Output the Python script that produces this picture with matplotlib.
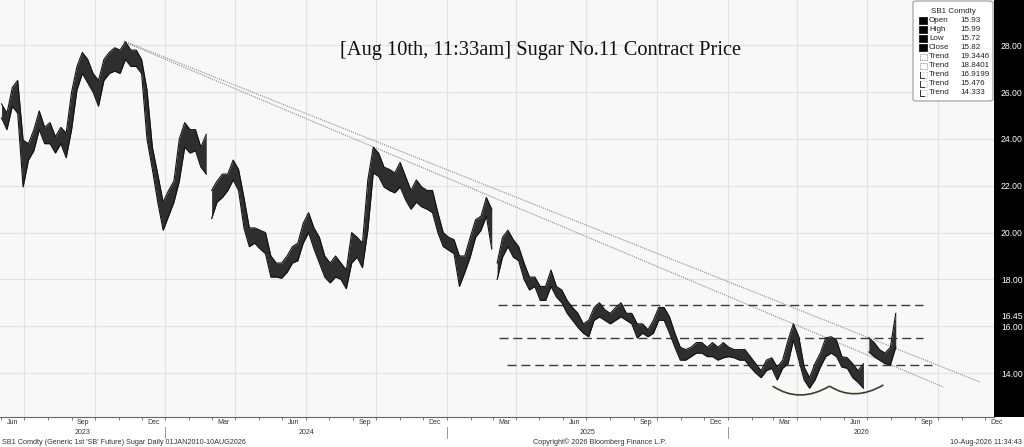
import matplotlib
matplotlib.use('Agg')
import matplotlib.pyplot as plt
import matplotlib.dates as mdates
import matplotlib.transforms as mtransforms
from matplotlib.patches import FancyBboxPatch, Rectangle, PathPatch
from matplotlib.path import Path
import pandas as pd

# weekly high / low of the generic 1st sugar future
week_high = [25.5, 25.1, 26.2, 26.5, 23.95, 23.8, 24.4, 25.2, 24.5, 24.7,
             24.1, 24.5, 24.25, 26.0, 27.1, 27.7, 27.4, 26.8, 26.5, 27.4,
             27.7, 27.9, 27.8, 28.15, 27.8, 27.8, 27.4, 26.1, 23.65, 22.5,
             21.3, 21.8, 22.2, 24.0, 24.7, 24.4, 24.4, 23.65, 24.2, 21.8,
             22.2, 22.5, 22.5, 23.1, 22.7, 21.5, 20.2, 20.2, 20.1, 20.0,
             19.0, 18.7, 18.7, 19.0, 19.4, 19.55, 20.4, 20.85, 20.2, 19.8,
             19.0, 18.7, 19.0, 18.7, 18.4, 20.0, 19.8, 19.55, 22.25, 23.65,
             23.4, 22.8, 22.7, 22.55, 23.0, 22.4, 21.8, 22.25, 21.95, 21.8,
             21.8, 20.85, 20.0, 19.8, 19.7, 19.0, 19.0, 19.8, 20.55, 20.7,
             21.5, 21.0, 18.7, 19.8, 20.1, 19.7, 19.4, 18.7, 18.1, 18.1,
             17.7, 17.7, 18.4, 17.7, 17.55, 17.1, 16.8, 16.55, 16.1, 16.25,
             16.8, 17.0, 16.7, 16.55, 16.8, 17.0, 16.55, 16.55, 16.1, 16.1,
             15.85, 16.25, 16.8, 16.8, 16.4, 15.7, 15.1, 15.0, 15.1, 15.3,
             15.3, 15.1, 15.3, 15.1, 15.3, 15.1, 15.0, 15.0, 15.0, 14.7,
             14.4, 14.1, 14.55, 14.65, 14.25, 14.55, 15.4, 16.1, 15.55, 14.25,
             13.8, 14.4, 14.85, 15.5, 15.55, 15.4, 14.7, 14.65, 14.4, 14.1,
             14.4, 15.5, 15.3, 15.0, 14.85, 15.1, 16.55]
week_low = [24.9, 24.4, 25.4, 25.1, 21.95, 23.1, 23.5, 24.4, 23.8, 23.8,
            23.4, 23.8, 23.2, 24.4, 26.1, 26.8, 26.4, 26.0, 25.4, 26.5,
            26.8, 26.9, 26.8, 27.4, 27.1, 27.1, 26.8, 24.0, 22.7, 21.3,
            20.1, 20.7, 21.3, 22.2, 23.65, 23.4, 23.5, 22.8, 22.5, 20.6,
            21.3, 21.5, 21.8, 22.25, 21.8, 20.2, 19.4, 19.55, 19.3, 19.1,
            18.1, 18.1, 18.05, 18.3, 18.7, 18.8, 19.55, 20.0, 19.3, 18.7,
            18.1, 17.85, 18.1, 18.0, 17.6, 18.7, 18.95, 18.5, 20.1, 22.55,
            22.4, 21.95, 21.8, 21.7, 21.95, 21.4, 21.0, 21.3, 21.1, 21.0,
            20.85, 20.0, 19.4, 19.25, 19.1, 17.7, 18.3, 18.95, 19.8, 20.1,
            20.7, 19.3, 18.0, 18.95, 19.4, 18.95, 18.8, 18.0, 17.55, 17.7,
            17.1, 17.1, 17.7, 17.25, 17.0, 16.55, 16.25, 15.95, 15.7, 15.55,
            16.25, 16.4, 16.25, 16.1, 16.25, 16.4, 16.25, 16.1, 15.5, 15.7,
            15.55, 15.7, 16.25, 16.25, 15.7, 15.1, 14.55, 14.55, 14.7, 14.85,
            14.85, 14.7, 14.7, 14.55, 14.65, 14.7, 14.65, 14.55, 14.55, 14.25,
            14.0, 13.8, 14.1, 14.2, 13.7, 14.2, 14.4, 15.4, 14.55, 13.7,
            13.35, 13.7, 14.25, 14.7, 14.85, 14.7, 14.25, 14.2, 13.8, 13.6,
            13.35, 14.9, 14.7, 14.55, 14.4, 14.35, 15.1]
first_week = '2023-06-02'
roll_dates = ['2024-02-29', '2025-03-01', '2026-07-01']

# dotted trend lines from the Nov 2023 high
trend_dates = [['2023-11-08', '2026-11-24'], ['2023-11-08', '2026-10-08']]
trend_values = [[28.19, 13.62], [28.15, 13.40]]

# dashed horizontal levels
level_values = [16.9199, 15.476, 14.333]
level_start = ['2025-03-08', '2025-03-09', '2025-03-20']
level_end = ['2026-09-11', '2026-09-12', '2026-09-23']

# double bottom arcs (start, control, end)
arc_dates = [['2026-02-28', '2026-04-04', '2026-05-13'],
             ['2026-05-13', '2026-06-14', '2026-07-22']]
arc_values = [[13.44, 12.68, 13.44], [13.44, 12.76, 13.49]]

y_ticks = [14.0, 16.0, 16.45, 18.0, 20.0, 22.0, 24.0, 26.0, 28.0]
grid_values = [14, 16, 18, 20, 22, 24, 26, 28]
month_labels = {3: 'Mar', 6: 'Jun', 9: 'Sep', 12: 'Dec'}

legend_labels = ['Open', 'High', 'Low', 'Close', 'Trend', 'Trend', 'Trend', 'Trend', 'Trend']
legend_values = ['15.93', '15.99', '15.72', '15.82', '19.3446', '18.8401', '16.9199', '15.476', '14.333']

W, H = 1024, 447
fig = plt.figure(figsize=(W / 100, H / 100), dpi=100)
fig.patch.set_facecolor('white')


def fx(px):
    return px / W


def fy(py):
    return 1 - py / H


panel = fig.add_axes([fx(994), fy(417), fx(30), 417 / H])
panel.set_facecolor('black')
panel.set_xticks([])
panel.set_yticks([])
for s in panel.spines.values():
    s.set_visible(False)
panel.set_zorder(0)

ax = fig.add_axes([0, fy(417), fx(994), 417 / H])
ax.set_zorder(1)
ax.set_facecolor('#f8f8f8')
xmin = pd.Timestamp('2023-05-31')
xmax = pd.Timestamp('2026-12-12 16:00')
ax.set_xlim(xmin, xmax)
ax.set_ylim(12.12, 29.94)

for g in grid_values:
    ax.axhline(g, color='#e2e2e2', lw=0.8, zorder=0)
for q in pd.date_range('2023-07-01', '2026-12-01', freq='QS'):
    ax.axvline(q, color='#e2e2e2', lw=0.8, zorder=0)

# price band, broken at the contract rolls
weeks = pd.date_range(first_week, periods=len(week_high), freq='7D')
cuts = [0] + [int(weeks.searchsorted(pd.Timestamp(r))) for r in roll_dates] + [len(weeks)]
for a, b in zip(cuts[:-1], cuts[1:]):
    d = weeks[a:b]
    hi = week_high[a:b]
    lo = week_low[a:b]
    ax.fill_between(d, lo, hi, color='#2e2e2e', lw=0, zorder=3)
    ax.plot(d, hi, color='#111111', lw=0.8, zorder=3)
    ax.plot(d, lo, color='#111111', lw=0.8, zorder=3)

for d, v in zip(trend_dates, trend_values):
    ax.plot(pd.to_datetime(d), v, color='#8a8a8a', lw=0.8, ls=(0, (1, 1)), zorder=2)

for v, s, e in zip(level_values, level_start, level_end):
    ax.plot([pd.Timestamp(s), pd.Timestamp(e)], [v, v], color='#3a3a3a', lw=1.0,
            ls=(0, (6.5, 3.5)), zorder=2)

for d, v in zip(arc_dates, arc_values):
    xs = mdates.date2num(pd.to_datetime(d))
    path = Path(list(zip(xs, v)), [Path.MOVETO, Path.CURVE3, Path.CURVE3])
    ax.add_patch(PathPatch(path, facecolor='none', edgecolor='#3c3c34', lw=1.2, zorder=4))

# axes styling
for side in ['top', 'left', 'right']:
    ax.spines[side].set_visible(False)
ax.spines['bottom'].set_color('#666666')
ax.spines['bottom'].set_linewidth(0.8)

ax.yaxis.tick_right()
ax.set_yticks(y_ticks)
ax.set_yticklabels(['%.2f' % t for t in y_ticks])
ax.tick_params(axis='y', length=0, pad=5, labelcolor='white', labelsize=6.2)
for lab in ax.get_yticklabels():
    lab.set_fontfamily('Liberation Sans')

ax.set_xticks(pd.date_range('2023-06-01', '2026-12-01', freq='MS'))
ax.set_xticklabels([])
ax.tick_params(axis='x', length=2.5, width=0.6, color='#666666', direction='out')

trans = mtransforms.blended_transform_factory(ax.transData, ax.transAxes)
for m in pd.date_range('2023-06-01', '2026-12-01', freq='MS'):
    if m.month in month_labels:
        mid = m + pd.Timedelta(days=15)
        ax.text(mid, -6 / 417, month_labels[m.month], transform=trans, ha='center',
                va='center', fontsize=5, family='Liberation Sans', color='#333333')

for yr in [2023, 2024, 2025, 2026]:
    a = max(pd.Timestamp(yr, 1, 1), xmin)
    b = min(pd.Timestamp(yr + 1, 1, 1), xmax)
    ax.text(a + (b - a) / 2, -15 / 417, str(yr), transform=trans, ha='center', va='center',
            fontsize=5, family='Liberation Sans', color='#333333')
    if yr > 2023:
        ax.plot([pd.Timestamp(yr, 1, 1)] * 2, [-10 / 417, -21 / 417], transform=trans,
                color='#888888', lw=0.6, clip_on=False)

fig.text(fx(540), fy(50), '[Aug 10th, 11:33am] Sugar No.11 Contract Price',
         ha='center', va='center', fontsize=14.7, family='Liberation Serif', color='#111111')

fig.text(fx(2), fy(442), "SB1 Comdty (Generic 1st 'SB' Future) Sugar Daily 01JAN2010-10AUG2026",
         ha='left', va='center', fontsize=5.2, family='Liberation Sans', color='#333333')
fig.text(fx(533), fy(442), 'Copyright\u00a9 2026 Bloomberg Finance L.P.',
         ha='left', va='center', fontsize=5.2, family='Liberation Sans', color='#333333')
fig.text(fx(1022), fy(442), '10-Aug-2026 11:34:43',
         ha='right', va='center', fontsize=5.2, family='Liberation Sans', color='#333333')

# legend box
box = FancyBboxPatch((fx(913), fy(101)), fx(80), 100 / H, boxstyle='round,pad=0,rounding_size=0.004',
                     transform=fig.transFigure, facecolor='white', edgecolor='#9a9a9a', lw=0.8,
                     zorder=5)
fig.add_artist(box)
fig.text(fx(953), fy(11.5), 'SB1 Comdty', ha='center', va='center', fontsize=5.8,
         family='Liberation Sans', color='#222222', zorder=6)
for i, (lab, val) in enumerate(zip(legend_labels, legend_values)):
    cy = 20.7 + 9 * i
    if i < 4:
        fig.add_artist(Rectangle((fx(919), fy(cy + 3.5)), fx(8), 7 / H, transform=fig.transFigure,
                                 facecolor='black', edgecolor='black', lw=0.5, zorder=6))
    elif i < 6:
        fig.add_artist(Rectangle((fx(919.5), fy(cy + 3)), fx(7), 6 / H, transform=fig.transFigure,
                                 facecolor='none', edgecolor='#777777', lw=0.6, ls=(0, (1, 1)),
                                 zorder=6))
    else:
        fig.add_artist(Rectangle((fx(919.5), fy(cy + 3)), fx(7), 6 / H, transform=fig.transFigure,
                                 facecolor='none', edgecolor='#aaaaaa', lw=0.5, ls=(0, (1, 1)),
                                 zorder=6))
        fig.add_artist(plt.Line2D([fx(919.5), fx(919.5), fx(924)], [fy(cy - 3), fy(cy + 3), fy(cy + 3)],
                                  transform=fig.transFigure, color='#333333', lw=0.7, zorder=7))
    fig.text(fx(929), fy(cy), lab, ha='left', va='center', fontsize=5.8,
             family='Liberation Sans', color='#222222', zorder=6)
    fig.text(fx(960), fy(cy), val, ha='left', va='center', fontsize=5.8,
             family='Liberation Sans', color='#222222', zorder=6)

fig.savefig('out.png', dpi=100)
